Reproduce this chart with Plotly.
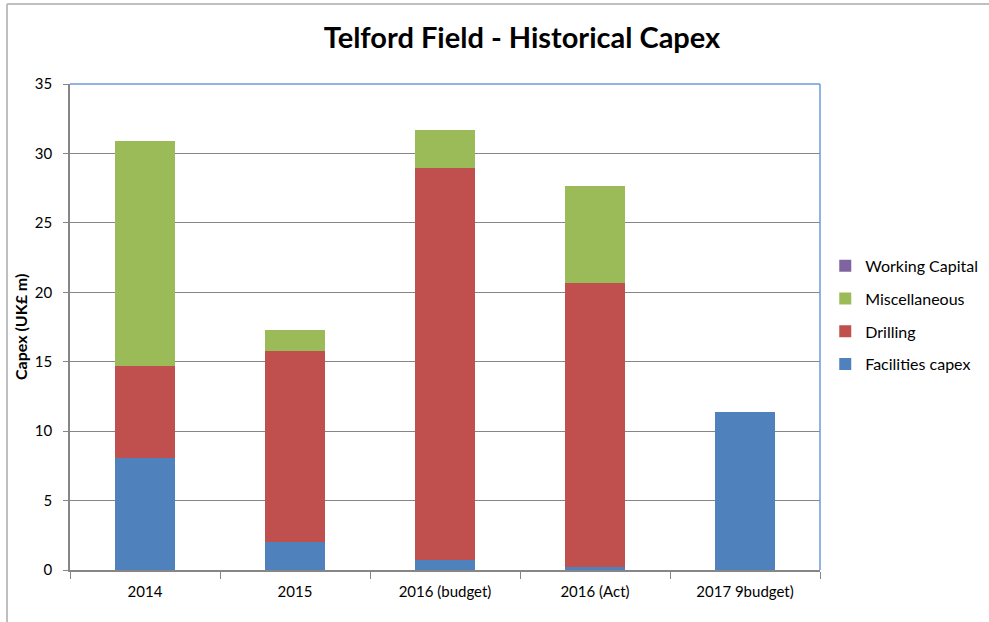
import plotly.graph_objects as go

categories = ["2014", "2015", "2016 (budget)", "2016 (Act)", "2017 9budget)"]
facilities = [8.07, 2.04, 0.75, 0.24, 11.36]
drilling = [6.59, 13.70, 28.20, 20.40, 0.0]
miscellaneous = [16.20, 1.51, 2.72, 7.0, 0.0]
working_capital = [0.0, 0.0, 0.0, 0.0, 0.0]
y_ticks = [0, 5, 10, 15, 20, 25, 30, 35]

FONT = "Lato"
fig = go.Figure()
series = [
    ("Facilities capex", facilities, "#4F81BD", 4),
    ("Drilling", drilling, "#C0504D", 3),
    ("Miscellaneous", miscellaneous, "#9BBB59", 2),
    ("Working Capital", working_capital, "#8064A2", 1),
]
for name, vals, col, rank in series:
    fig.add_trace(go.Bar(x=categories, y=vals, name=name, legendgroup=name, legendrank=rank,
                         marker=dict(color=col, line=dict(width=0))))

fig.update_layout(
    width=989, height=622,
    margin=dict(l=70, r=169, t=84, b=52, autoexpand=False),
    barmode="stack", bargap=0.6,
    plot_bgcolor="white", paper_bgcolor="white",
    font=dict(family=FONT, size=14, color="#000000"),
    title=dict(text="<b>Telford Field - Historical Capex</b>", x=522/989, xanchor="center",
               y=1 - 38/622, yanchor="middle", font=dict(size=29, family=FONT, color="#000")),
    legend=dict(x=1.007, xanchor="left", y=0.661, yanchor="top",
                traceorder="grouped", tracegroupgap=9,
                font=dict(size=16, family=FONT), itemwidth=30, bgcolor="rgba(0,0,0,0)"),
    xaxis=dict(type="category", showline=True, linecolor="#868686", linewidth=1.5,
               ticks="outside", tickson="boundaries", ticklen=7, tickcolor="#868686",
               tickfont=dict(size=15), showgrid=False, ticklabelstandoff=7),
    yaxis=dict(range=[0, 35], tickvals=y_ticks, showline=True, linecolor="#868686", linewidth=1.5,
               ticks="outside", ticklen=5, tickcolor="#868686", gridcolor="#868686", gridwidth=1,
               tickfont=dict(size=15), zeroline=False, ticklabelstandoff=8),
    shapes=[
        dict(type="line", xref="paper", yref="paper", x0=0, x1=1, y0=1, y1=1,
             line=dict(color="#6A9BD8", width=1.5)),
        dict(type="line", xref="paper", yref="paper", x0=1, x1=1, y0=0, y1=1,
             line=dict(color="#6A9BD8", width=1.5)),
        dict(type="line", xref="paper", yref="paper", x0=(7-70)/750, x1=(7-70)/750,
             y0=-1, y1=(570-4)/486, line=dict(color="#BFBFBF", width=2)),
        dict(type="line", xref="paper", yref="paper", x0=(7-70)/750, x1=2,
             y0=(570-4)/486, y1=(570-4)/486, line=dict(color="#BFBFBF", width=2)),
    ],
    annotations=[
        dict(text="<b>Capex (UK£ m)</b>", textangle=-90, xref="paper", yref="paper",
             x=(20-70)/750, y=0.5, xanchor="center", yanchor="middle", showarrow=False,
             font=dict(size=16, family=FONT)),
    ],
)
fig.write_html("out.html")
